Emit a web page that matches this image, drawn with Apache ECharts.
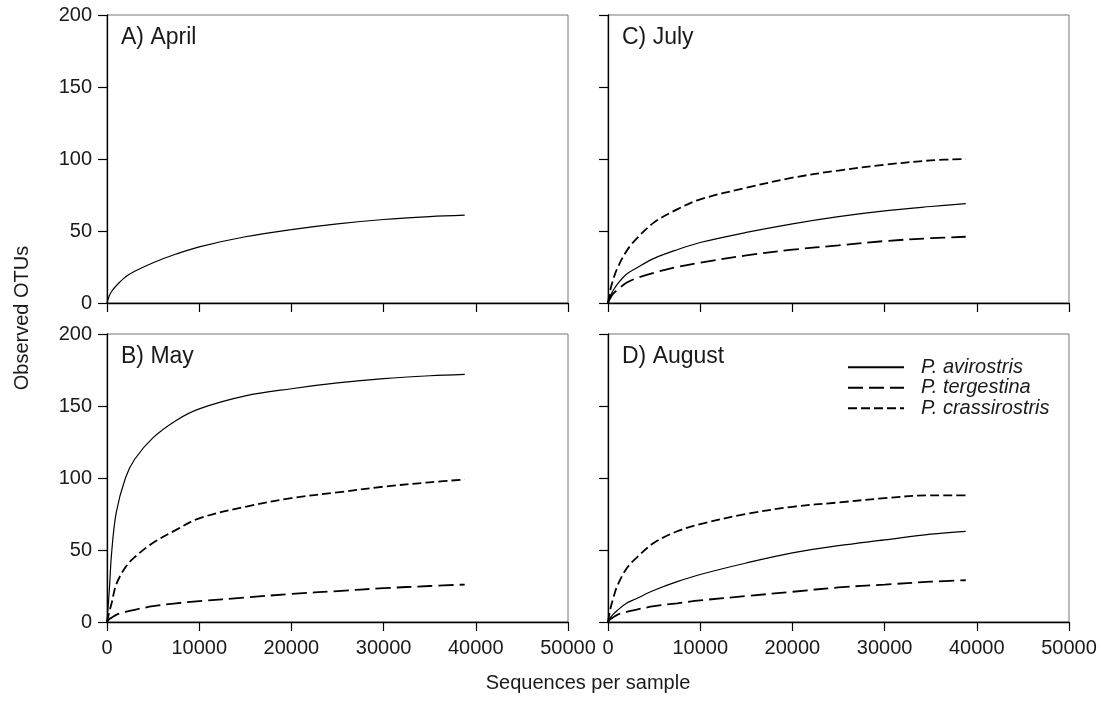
<!DOCTYPE html>
<html><head><meta charset="utf-8">
<script src="https://cdn.jsdelivr.net/npm/echarts@6/dist/echarts.min.js"></script>
<style>html,body{margin:0;padding:0;background:#fff}#c{width:1102px;height:704px}</style>
</head><body><div id="c"></div>
<script>
const seqs = [0, 250, 500, 1000, 2000, 3000, 5000, 7500, 10000, 15000, 20000, 25000, 30000, 35000, 38800];
const aprilAvirostris = [0, 5, 8, 12, 18, 22, 28, 34, 39, 46, 51, 55, 58, 60, 61];
const mayAvirostris = [0, 22, 48, 76, 100, 113, 128, 140, 148, 157, 162, 166, 169, 171, 172];
const mayTergestina = [0, 2, 3, 5, 7, 8.5, 11, 13, 14.5, 17, 19.5, 21.5, 23.5, 25, 26];
const mayCrassirostris = [0, 7, 13, 26, 38, 45, 55, 64, 72, 80, 86, 90, 94, 97, 99];
const julyAvirostris = [0, 5, 8, 13, 20, 24, 31, 37, 42, 49, 55, 60, 64, 67, 69];
const julyTergestina = [0, 3.5, 6, 9, 14, 17, 21, 25, 28, 33, 37, 40, 43, 45, 46];
const julyCrassirostris = [0, 9, 15, 24, 36, 44, 56, 65, 72, 80, 87, 92, 96, 99, 100];
const augAvirostris = [0, 3, 5, 8, 13, 16, 22, 28, 33, 41, 48, 53, 57, 61, 63];
const augTergestina = [0, 2, 3, 5, 7, 8.5, 11, 13, 15, 18, 21, 24, 26, 28, 29];
const augCrassirostris = [0, 9, 15, 25, 37, 44, 55, 63, 68, 75, 80, 83, 86, 88, 88];
const panelLabels = ['A) April', 'B) May', 'C) July', 'D) August'];
const speciesNames = ['P. avirostris', 'P. tergestina', 'P. crassirostris'];

const FONT = 'Liberation Sans, Arial, Helvetica, sans-serif';
const styles = {
  'P. avirostris': {type: 'solid', width: 1.2},
  'P. tergestina': {type: [15, 6], width: 1.8},
  'P. crassirostris': {type: [9, 4], width: 1.8}
};
const grids = [
  {left: 107, top: 15, width: 461, height: 288},
  {left: 107, top: 334, width: 461, height: 288},
  {left: 608, top: 15, width: 461, height: 288},
  {left: 608, top: 334, width: 461, height: 288}
];
const showX = [false, true, false, true];
const showY = [true, true, false, false];
const chart = echarts.init(document.getElementById('c'));
const xAxis = grids.map((g, i) => ({
  type: 'value', gridIndex: i, min: 0, max: 50000, interval: 10000,
  axisLine: {show: true, onZero: false, lineStyle: {color: '#000', width: 1.3}},
  axisTick: {show: true, length: 9, lineStyle: {color: '#000', width: 1.2}},
  axisLabel: {show: showX[i], fontSize: 20, color: '#1a1a1a', fontFamily: FONT, margin: 16,
    formatter: v => String(v)},
  splitLine: {show: false}
}));
const yAxis = grids.map((g, i) => ({
  type: 'value', gridIndex: i, min: 0, max: 200, interval: 50,
  axisLine: {show: true, lineStyle: {color: '#000', width: 1.3}},
  axisTick: {show: true, length: 9, lineStyle: {color: '#000', width: 1.2}},
  axisLabel: {show: showY[i], fontSize: 20, color: '#1a1a1a', fontFamily: FONT, margin: 15},
  splitLine: {show: false}
}));
function mk(name, vals, gi) {
  return {
    name: name, type: 'line', xAxisIndex: gi, yAxisIndex: gi, smooth: 0.35,
    symbol: 'none', showSymbol: false, silent: true,
    lineStyle: {color: '#000', type: styles[name].type, width: styles[name].width},
    itemStyle: {color: '#000'},
    data: seqs.map((s, k) => [s, vals[k]])
  };
}
const series = [
  mk('P. avirostris', aprilAvirostris, 0),
  mk('P. avirostris', mayAvirostris, 1),
  mk('P. tergestina', mayTergestina, 1),
  mk('P. crassirostris', mayCrassirostris, 1),
  mk('P. avirostris', julyAvirostris, 2),
  mk('P. tergestina', julyTergestina, 2),
  mk('P. crassirostris', julyCrassirostris, 2),
  mk('P. avirostris', augAvirostris, 3),
  mk('P. tergestina', augTergestina, 3),
  mk('P. crassirostris', augCrassirostris, 3)
];
const labelPos = [[121, 40], [121, 359], [622, 40], [622, 359]];
const titles = panelLabels.map((t, i) => ({
  text: t, left: labelPos[i][0], top: labelPos[i][1] - 14,
  textStyle: {fontSize: 23, fontWeight: 'normal', color: '#1a1a1a', fontFamily: FONT}, padding: 0
}));
chart.setOption({
  animation: false,
  backgroundColor: '#fff',
  title: titles,
  grid: grids.map(g => Object.assign({show: true, borderColor: '#777', borderWidth: 1, backgroundColor: 'transparent'}, g)),
  xAxis: xAxis, yAxis: yAxis,
  legend: {
    data: speciesNames, orient: 'vertical', left: 847, top: 357,
    itemWidth: 56, itemHeight: 14, itemGap: 0, padding: 0,
    itemStyle: {opacity: 0},
    textStyle: {fontSize: 20, fontStyle: 'italic', color: '#1a1a1a', fontFamily: FONT, lineHeight: 20.5, padding: [0, 0, 0, 12]},
    selectedMode: false
  },
  graphic: [{
    type: 'text', x: 22, y: 318, rotation: Math.PI / 2,
    style: {text: 'Observed OTUs', fontSize: 20, fill: '#1a1a1a', fontFamily: FONT, align: 'center', verticalAlign: 'middle'}
  }, {
    type: 'text', x: 588, y: 683,
    style: {text: 'Sequences per sample', fontSize: 20, fill: '#1a1a1a', fontFamily: FONT, align: 'center', verticalAlign: 'middle'}
  }],
  series: series
});
</script></body></html>
